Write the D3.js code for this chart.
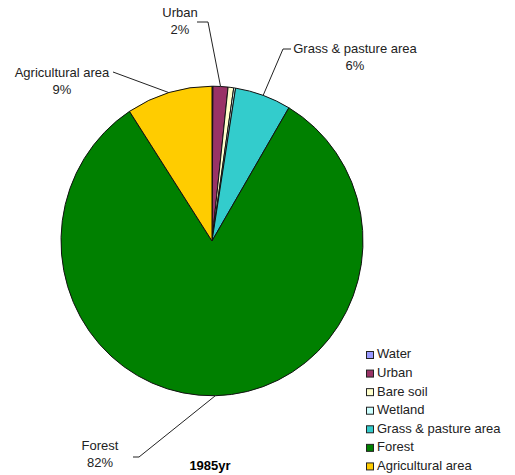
<!DOCTYPE html>
<html>
<head>
<meta charset="utf-8">
<script src="https://cdn.jsdelivr.net/npm/d3@7"></script>
<style>
  body { margin: 0; background: #fff; }
  text { font-family: "Liberation Sans", Arial, sans-serif; }
</style>
</head>
<body>
<svg id="chart" width="515" height="475"></svg>
<script>
// land-cover shares, 1985 (percent)
const categories = ['Water', 'Urban', 'Bare soil', 'Wetland', 'Grass & pasture area', 'Forest', 'Agricultural area'];
const values = [0.1, 1.6, 0.6, 0.2, 6.0, 82.3, 9.2];
const colors = ['#9999FF', '#993366', '#FFFFCC', '#CCFFFF', '#33CCCC', '#008000', '#FFCC00'];
const title = '1985yr';

// which slices get a callout label, and where the label text sits
const callouts = {
  'Urban': {x: 180, y: 17, elbow: [[197, 22], [208, 22]]},
  'Grass & pasture area': {x: 355, y: 53, elbow: [[291, 49], [283, 49]]},
  'Agricultural area': {x: 62, y: 77, elbow: [[113, 72]]},
  'Forest': {x: 100, y: 450, elbow: [[133, 457], [139, 457]]}
};

const svg = d3.select('#chart');
const cx = 212, cy = 241, radius = 151, yStretch = 1.025;

const data = categories.map((c, i) => ({name: c, value: values[i], color: colors[i]}));

const pie = d3.pie()
  .value(d => d.value)
  .sort(null);

const arcs = pie(data);
const arc = d3.arc().innerRadius(0).outerRadius(radius);

let pieGroup = svg.append('g')
  .attr('transform', `translate(${cx}, ${cy}) scale(1, ${yStretch})`);

pieGroup.selectAll('path')
  .data(arcs)
  .join('path')
  .attr('d', arc)
  .style('fill', d => d.data.color)
  .style('stroke', '#111')
  .style('stroke-width', 1)
  .attr('vector-effect', 'non-scaling-stroke');

// callout labels with leader lines
const total = d3.sum(values);
arcs.forEach(a => {
  let c = callouts[a.data.name];
  if (!c) return;
  let mid = (a.startAngle + a.endAngle) / 2;
  let ex = cx + radius * Math.sin(mid);
  let ey = cy - radius * Math.cos(mid) * yStretch;
  let pts = c.elbow.concat([[ex, ey]]);
  svg.append('path')
    .attr('d', d3.line()(pts))
    .style('fill', 'none')
    .style('stroke', '#222')
    .style('stroke-width', 1);

  let t = svg.append('text')
    .attr('x', c.x)
    .attr('y', c.y)
    .style('font-size', '13px')
    .style('fill', '#222')
    .style('text-anchor', 'middle');
  t.append('tspan').attr('x', c.x).text(a.data.name);
  t.append('tspan').attr('x', c.x).attr('dy', 17)
    .text(`${Math.round(a.data.value / total * 100)}%`);
});

// title
svg.append('text')
  .attr('x', 210)
  .attr('y', 470)
  .style('font-size', '13px')
  .style('font-weight', 'bold')
  .style('text-anchor', 'middle')
  .text(title);

// legend
let legendGroup = svg.append('g')
  .attr('transform', 'translate(366, 351)');

let legendScale = d3.scaleBand()
  .domain(categories)
  .range([0, 130]);

let items = legendGroup.selectAll('g')
  .data(data)
  .join('g')
  .attr('transform', d => `translate(0, ${legendScale(d.name)})`);

items.append('rect')
  .attr('x', 0.5)
  .attr('y', 0.5)
  .attr('width', 7)
  .attr('height', 7)
  .style('fill', d => d.color)
  .style('stroke', '#222');

items.append('text')
  .attr('x', 11)
  .attr('y', 4)
  .style('font-size', '13px')
  .style('fill', '#222')
  .style('dominant-baseline', 'middle')
  .text(d => d.name);
</script>
</body>
</html>
